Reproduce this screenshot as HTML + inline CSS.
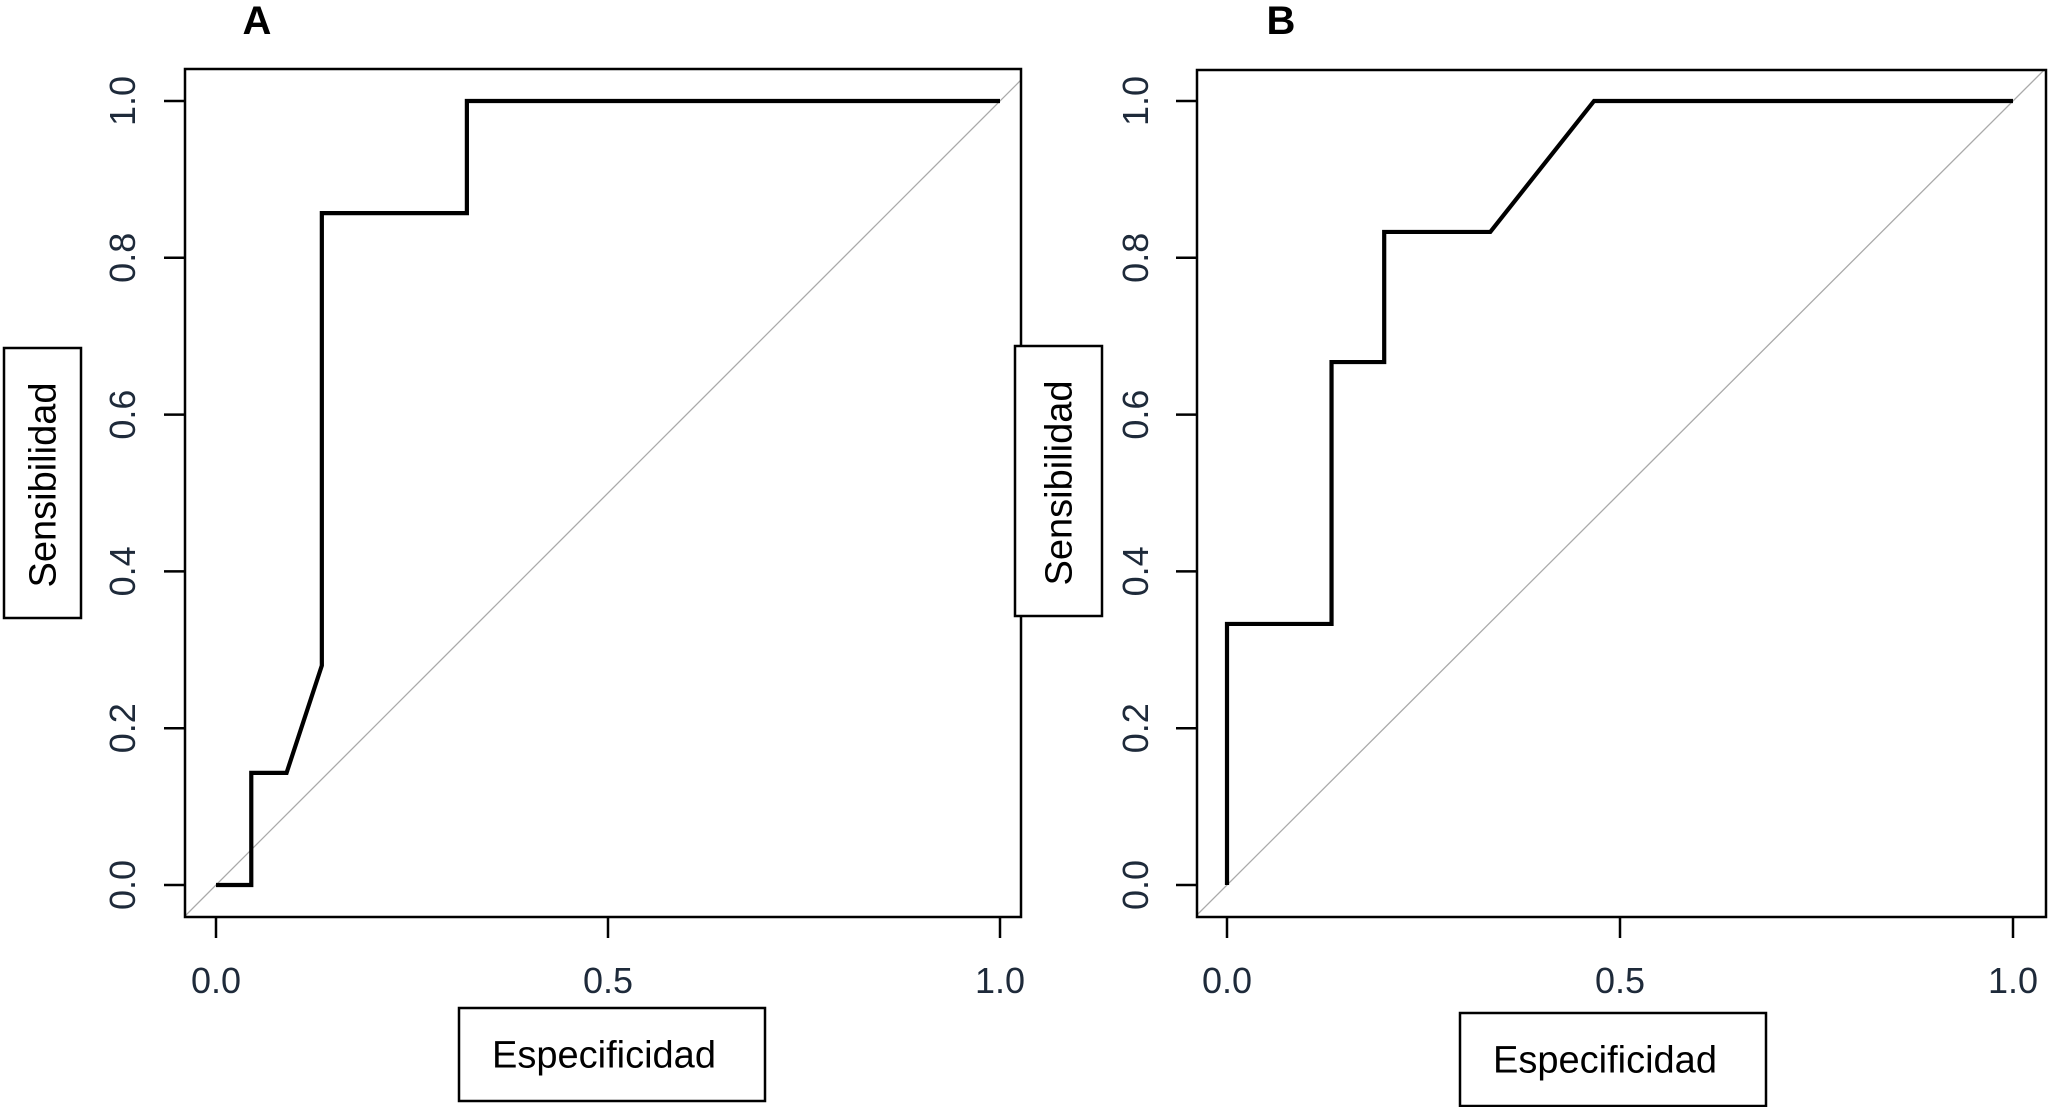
<!DOCTYPE html>
<html><head><meta charset="utf-8"><style>
html,body{margin:0;padding:0;background:#fff;}
svg{display:block;}
.tick{font-family:"Liberation Sans",sans-serif;font-size:36px;fill:#1e2a3a;}
.lab{font-family:"Liberation Sans",sans-serif;font-size:38px;fill:#000;}
.pan{font-family:"Liberation Sans",sans-serif;font-size:40px;font-weight:bold;fill:#000;}
</style></head><body>
<svg id="chart" width="2050" height="1107" viewBox="0 0 2050 1107" xmlns="http://www.w3.org/2000/svg"></svg>
<script>
const xTicks = [0, 0.5, 1];
const xTickLabels = ["0.0", "0.5", "1.0"];
const yTicks = [0, 0.2, 0.4, 0.6, 0.8, 1];
const yTickLabels = ["0.0", "0.2", "0.4", "0.6", "0.8", "1.0"];
const rocAX = [0, 0.045, 0.045, 0.09, 0.135, 0.135, 0.32, 0.32, 1];
const rocAY = [0, 0, 0.143, 0.143, 0.28, 0.857, 0.857, 1, 1];
const rocBX = [0, 0, 0.133, 0.133, 0.2, 0.2, 0.335, 0.467, 1];
const rocBY = [0, 0.333, 0.333, 0.667, 0.667, 0.833, 0.833, 1, 1];

const NS = "http://www.w3.org/2000/svg";
const svg = document.getElementById('chart');
function mk(tag, attrs, parent) {
  const e = document.createElementNS(NS, tag);
  for (const k in attrs) e.setAttribute(k, attrs[k]);
  (parent || svg).appendChild(e);
  return e;
}
const panels = [
  {id:'a', letter:'A', lx:257, box:[185,69,1021,917], x0:216, x1:1000, y0:885, y1:101,
   xs:rocAX, ys:rocAY, ylab:[4,348,77,270], xlab:[459,1008,306,93], ytl:122},
  {id:'b', letter:'B', lx:1281, box:[1197,70,2046,917], x0:1227, x1:2013, y0:885, y1:101,
   xs:rocBX, ys:rocBY, ylab:[1015,346,87,270], xlab:[1460,1013,306,93], ytl:1135}
];
panels.forEach(p => {
  const g = mk('g', {});
  
  
  const sx = v => p.x0 + v * (p.x1 - p.x0);
  const sy = v => p.y0 - v * (p.y0 - p.y1);
  const t = mk('text', {x:p.lx, y:34, class:'pan', 'text-anchor':'middle'}, g);
  t.textContent = p.letter;
  
  
  const [l, tp, r, b] = p.box;
  const cp = mk('clipPath', {id:'clip' + p.id}, g);
  mk('rect', {x:l, y:tp, width:r-l, height:b-tp}, cp);
  const vlo = (l - p.x0) / (p.x1 - p.x0), vhi = (r - p.x0) / (p.x1 - p.x0);
  const diag = mk('line', {x1:sx(vlo), y1:sy(vlo), x2:sx(vhi), y2:sy(vhi), stroke:'#aaa', 'stroke-width':1.3, 'clip-path':'url(#clip'+p.id+')'}, g);
  
  
  const box = mk('rect', {x:l, y:tp, width:r-l, height:b-tp, fill:'none', stroke:'#000', 'stroke-width':2.5}, g);
  
  
  xTicks.forEach((v, i) => {
    mk('line', {x1:sx(v), y1:b, x2:sx(v), y2:b+21, stroke:'#000', 'stroke-width':2.5}, g);
    const tx = mk('text', {x:sx(v), y:993, class:'tick', 'text-anchor':'middle'}, g);
    tx.textContent = xTickLabels[i];
    
    
  });
  yTicks.forEach((v, i) => {
    mk('line', {x1:l-21, y1:sy(v), x2:l, y2:sy(v), stroke:'#000', 'stroke-width':2.5}, g);
    const tx = mk('text', {x:0, y:0, class:'tick', 'text-anchor':'middle', transform:`translate(${p.ytl+13},${sy(v)}) rotate(-90)`}, g);
    tx.textContent = yTickLabels[i];
    
    
  });
  const pts = p.xs.map((x, i) => sx(x) + ',' + sy(p.ys[i])).join(' ');
  const line = mk('polyline', {points:pts, fill:'none', stroke:'#000', 'stroke-width':4.2, 'stroke-linejoin':'miter'}, g);
  
  
  const [ax, ay, aw, ah] = p.ylab;
  const yb = mk('rect', {x:ax, y:ay, width:aw, height:ah, fill:'#fff', stroke:'#000', 'stroke-width':2.5}, g);
  
  
  const yt = mk('text', {x:0, y:0, class:'lab', 'text-anchor':'middle', transform:`translate(${ax+aw/2+13},${ay+ah/2+2}) rotate(-90)`}, g);
  yt.textContent = 'Sensibilidad';
  
  
  const [bx, by, bw, bh] = p.xlab;
  const xb = mk('rect', {x:bx, y:by, width:bw, height:bh, fill:'#fff', stroke:'#000', 'stroke-width':2.5}, g);
  
  
  const xt = mk('text', {x:bx+bw/2-8, y:by+bh/2+13, class:'lab', 'text-anchor':'middle'}, g);
  xt.textContent = 'Especificidad';
  
  
});
</script>
</body></html>
